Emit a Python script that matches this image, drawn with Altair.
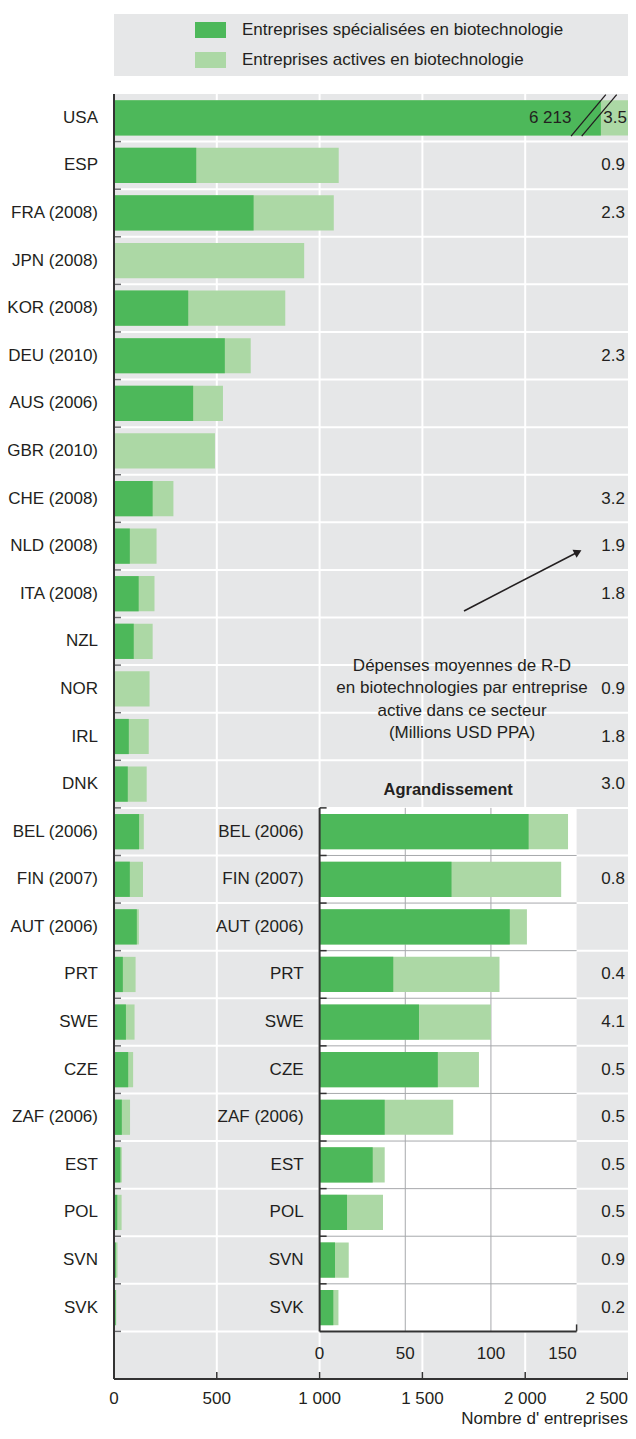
import altair as alt
import pandas as pd

# ---------------- data ----------------
countries = ["USA", "ESP", "FRA (2008)", "JPN (2008)", "KOR (2008)", "DEU (2010)",
             "AUS (2006)", "GBR (2010)", "CHE (2008)", "NLD (2008)", "ITA (2008)",
             "NZL", "NOR", "IRL", "DNK", "BEL (2006)", "FIN (2007)", "AUT (2006)",
             "PRT", "SWE", "CZE", "ZAF (2006)", "EST", "POL", "SVN", "SVK"]
# Entreprises spécialisées en biotechnologie
specialised = [6213, 400, 679, None, 361, 539, 385, None, 188, 77, 120, 96, None,
               72, 67, 122, 77, 111, 43, 58, 69, 38, 31, 16, 9, 8]
# Entreprises actives en biotechnologie (total; USA off the scale)
active = [None, 1093, 1069, 925, 833, 665, 530, 491, 289, 207, 197, 188, 173,
          169, 159, 145, 141, 121, 105, 100, 93, 78, 38, 37, 17, 11]
# Dépenses moyennes de R-D par entreprise active (millions USD PPA)
rd_per_firm = [3.5, 0.9, 2.3, None, None, 2.3, None, None, 3.2, 1.9, 1.8, None,
               0.9, 1.8, 3.0, None, 0.8, None, 0.4, 4.1, 0.5, 0.5, 0.5, 0.5, 0.9, 0.2]
inset_countries = countries[15:]
x_ticks = [0, 500, 1000, 1500, 2000, 2500]
inset_ticks = [0, 50, 100, 150]
inset_grid = [50, 100]
legend_labels = ["Entreprises spécialisées en biotechnologie",
                 "Entreprises actives en biotechnologie"]
note_lines = ["Dépenses moyennes de R-D", "en biotechnologies par entreprise",
              "active dans ce secteur", "(Millions USD PPA)"]
inset_title = "Agrandissement"
x_title = "Nombre d' entreprises"

# ---------------- layout / style ----------------
FONT = "Liberation Sans"
DARK = "#4db85a"
LIGHT = "#acd8a5"
BG = "#e6e7e8"
TXT = "#231f20"
AXIS = "#333333"
TICK = "#6d6e71"
IGRID = "#a7a9ac"
FS = 17

W, H = 514, 1285
ROWS = len(countries) + 1
STEP = H / ROWS
P_IN, P_OUT = 0.26, 0.13
X_MAX = 2500
BREAK_END = 2368            # visible end of the truncated USA bar
SLASH_A = [BREAK_END - 145, BREAK_END - 93]
SLASH_B = [BREAK_END + 24, BREAK_END + 77]
# the magnified panel maps 0..150 onto 1000..2250 of the main axis
INSET_MAX = 150
INSET_LO, INSET_HI = 1000, 2250
K = (INSET_HI - INSET_LO) / INSET_MAX
INSET_X0 = W * INSET_LO / X_MAX
INSET_X1 = W * INSET_HI / X_MAX
INSET_TOP = 15 * STEP
INSET_BOT = 26 * STEP
BOUND = -P_IN * STEP / 2    # shift from band start to the row boundary

df = pd.DataFrame({"country": countries, "spec": specialised,
                   "active": active, "rd": rd_per_firm})
df_in = df[df["country"].isin(inset_countries)]
one = pd.DataFrame({"k": [0]})

ys = alt.Scale(domain=countries + [" "], paddingInner=P_IN, paddingOuter=P_OUT)
xs = alt.Scale(domain=[0, X_MAX], nice=False)


def Y(**kw):
    return alt.Y("country:N", scale=ys, axis=None, **kw)


def X(f):
    return alt.X(f, scale=xs, axis=None)


def text(**kw):
    base = dict(baseline="middle", fontSize=FS, color=TXT, font=FONT)
    base.update(kw)
    return base


# ---- background, grid ----
bg = alt.Chart(one).mark_rect(color=BG).encode(
    x=alt.value(0), x2=alt.value(W), y=alt.value(0), y2=alt.value(H))
vgrid = alt.Chart(pd.DataFrame({"v": x_ticks[1:-1]})).mark_rule(
    color="white", strokeWidth=2).encode(x=X("v:Q"), y=alt.value(0), y2=alt.value(H))
hgrid = alt.Chart(pd.DataFrame({"country": countries[1:] + [" "]})).mark_rule(
    color="white", strokeWidth=2, yOffset=BOUND).encode(
    y=Y(bandPosition=0), x=alt.value(0), x2=alt.value(W))

# ---- main bars ----
light = alt.Chart(df).transform_calculate(
    act_disp=f"isValid(datum.active) ? min(datum.active, {X_MAX}) : (datum.spec > {X_MAX} ? {X_MAX} : null)"
).transform_filter("isValid(datum.act_disp)").mark_bar(color=LIGHT).encode(
    x=X("act_disp:Q"), y=Y())
dark = alt.Chart(df).transform_filter("isValid(datum.spec)").transform_calculate(
    spec_disp=f"datum.spec > {X_MAX} ? {BREAK_END} : datum.spec"
).mark_bar(color=DARK).encode(x=X("spec_disp:Q"), y=Y())

# ---- axis labels / title ----
y_labels = alt.Chart(df).mark_text(**text(align="right")).encode(
    x=alt.value(-16), y=Y(), text="country:N")
x_lab_calc = dict(lab="replace(format(datum.v, ','), ',', ' ')")
x_labels = alt.Chart(pd.DataFrame({"v": x_ticks[:-1]})).transform_calculate(
    **x_lab_calc).mark_text(**text(align="center")).encode(
    x=X("v:Q"), y=alt.value(H + 20), text="lab:N")
x_label_last = alt.Chart(pd.DataFrame({"v": x_ticks[-1:]})).transform_calculate(
    **x_lab_calc).mark_text(**text(align="right")).encode(
    x=X("v:Q"), y=alt.value(H + 20), text="lab:N")
x_title_mark = alt.Chart(one).mark_text(**text(align="right", text=x_title)).encode(
    x=alt.value(W), y=alt.value(H + 40))

# ---- magnified panel ----
in_calc = dict(lo=str(INSET_LO), hi=str(INSET_HI))
in_bg = alt.Chart(df_in).transform_calculate(**in_calc).mark_bar(
    color="white", height={"band": 1 / (1 - P_IN)}).encode(
    x=X("lo:Q"), x2="hi:Q", y=Y())
in_hgrid = alt.Chart(pd.DataFrame({"country": inset_countries[1:]})).transform_calculate(
    **in_calc).mark_rule(color=IGRID, strokeWidth=1, yOffset=BOUND).encode(
    y=Y(bandPosition=0), x=X("lo:Q"), x2="hi:Q")
in_vgrid = alt.Chart(pd.DataFrame({"v": inset_grid})).transform_calculate(
    xv=f"{INSET_LO} + datum.v * {K}").mark_rule(color=IGRID, strokeWidth=1).encode(
    x=X("xv:Q"), y=alt.value(INSET_TOP), y2=alt.value(INSET_BOT))
in_light = alt.Chart(df_in).transform_filter("isValid(datum.active)").transform_calculate(
    lo=str(INSET_LO), xa=f"{INSET_LO} + datum.active * {K}").mark_bar(color=LIGHT).encode(
    x=X("lo:Q"), x2="xa:Q", y=Y())
in_dark = alt.Chart(df_in).transform_filter("isValid(datum.spec)").transform_calculate(
    lo=str(INSET_LO), xd=f"{INSET_LO} + datum.spec * {K}").mark_bar(color=DARK).encode(
    x=X("lo:Q"), x2="xd:Q", y=Y())
in_ylabels = alt.Chart(df_in).mark_text(**text(align="right")).encode(
    x=alt.value(INSET_X0 - 16), y=Y(), text="country:N")
in_xlabels = alt.Chart(pd.DataFrame({"v": inset_ticks[:-1]})).transform_calculate(
    xv=f"{INSET_LO} + datum.v * {K}").mark_text(**text(align="center")).encode(
    x=X("xv:Q"), y=alt.value(INSET_BOT + 23), text="v:Q")
in_xlabel_last = alt.Chart(pd.DataFrame({"v": inset_ticks[-1:]})).transform_calculate(
    xv=f"{INSET_LO} + datum.v * {K}").mark_text(**text(align="right")).encode(
    x=X("xv:Q"), y=alt.value(INSET_BOT + 23), text="v:Q")
in_ticks = alt.Chart(pd.DataFrame({"country": inset_countries})).mark_rule(
    color=AXIS, strokeWidth=1.5, yOffset=BOUND).encode(
    y=Y(bandPosition=0), x=alt.value(INSET_X0), x2=alt.value(INSET_X0 + 7))
in_left = alt.Chart(one).mark_rule(color=AXIS, strokeWidth=2).encode(
    x=alt.value(INSET_X0), y=alt.value(INSET_TOP), y2=alt.value(INSET_BOT))
in_bottom = alt.Chart(one).mark_rule(color=AXIS, strokeWidth=2).encode(
    x=alt.value(INSET_X0), x2=alt.value(INSET_X1), y=alt.value(INSET_BOT))
in_end_tick = alt.Chart(one).mark_rule(color=AXIS, strokeWidth=1.5).encode(
    x=alt.value(INSET_X1), y=alt.value(INSET_BOT - 7), y2=alt.value(INSET_BOT))
in_title = alt.Chart(one).mark_text(**text(align="center", fontSize=16.5,
                                           fontWeight="bold", text=inset_title)).encode(
    x=alt.value((INSET_X0 + INSET_X1) / 2), y=alt.value(INSET_TOP - 18))

# ---- right column, USA break, axis lines ----
rd_text = alt.Chart(df).transform_filter(
    "isValid(datum.rd) && datum.country != 'USA'"
).mark_text(**text(align="right")).encode(
    x=alt.value(W - 3), y=Y(), text=alt.Text("rd:Q", format=".1f"))
rd_usa = alt.Chart(df).transform_filter(
    "isValid(datum.rd) && datum.country == 'USA'"
).mark_text(**text(align="right")).encode(
    x=alt.value(W - 1), y=Y(), text=alt.Text("rd:Q", format=".1f"))
usa_count = alt.Chart(df).transform_filter(f"datum.spec > {X_MAX}").transform_calculate(
    lab="replace(format(datum.spec, ','), ',', ' ')"
).mark_text(**text(align="right")).encode(
    x=alt.value(W * (SLASH_A[0] + 2) / X_MAX), y=Y(), text="lab:N")
slashes = alt.Chart(pd.DataFrame({"a": SLASH_A, "b": SLASH_B})).mark_rule(
    color=TXT, strokeWidth=1.3).encode(
    x=X("a:Q"), x2="b:Q", y=alt.value(STEP * 0.885), y2=alt.value(STEP * 0.012))

left_ticks = alt.Chart(pd.DataFrame({"country": countries[1:] + [" "]})).mark_rule(
    color=TICK, strokeWidth=1.5, yOffset=BOUND).encode(
    y=Y(bandPosition=0), x=alt.value(0), x2=alt.value(7))
bottom_ticks = alt.Chart(pd.DataFrame({"v": x_ticks[1:]})).mark_rule(
    color=AXIS, strokeWidth=1.5).encode(
    x=X("v:Q"), y=alt.value(H - 7), y2=alt.value(H))
left_line = alt.Chart(one).mark_rule(color=AXIS, strokeWidth=2).encode(
    x=alt.value(0), y=alt.value(0), y2=alt.value(H))
bottom_line = alt.Chart(one).mark_rule(color=AXIS, strokeWidth=2).encode(
    x=alt.value(0), x2=alt.value(W), y=alt.value(H))

# ---- legend (above the plot) ----
leg_box = alt.Chart(one).mark_rect(color=BG).encode(
    x=alt.value(0), x2=alt.value(W), y=alt.value(-80), y2=alt.value(-18))
leg_sw1 = alt.Chart(one).mark_rect(color=DARK).encode(
    x=alt.value(81), x2=alt.value(112), y=alt.value(-72), y2=alt.value(-56))
leg_sw2 = alt.Chart(one).mark_rect(color=LIGHT).encode(
    x=alt.value(81), x2=alt.value(112), y=alt.value(-42), y2=alt.value(-26))
leg_t1 = alt.Chart(one).mark_text(**text(align="left", text=legend_labels[0])).encode(
    x=alt.value(128), y=alt.value(-64))
leg_t2 = alt.Chart(one).mark_text(**text(align="left", text=legend_labels[1])).encode(
    x=alt.value(128), y=alt.value(-34))

# ---- annotation ----
note = alt.Chart(one).mark_text(**text(align="center", lineHeight=22.3,
                                       text=note_lines)).encode(
    x=alt.value(348), y=alt.value(572))
arrow = alt.Chart(one).mark_rule(color=TXT, strokeWidth=1.6).encode(
    x=alt.value(350), x2=alt.value(463), y=alt.value(517), y2=alt.value(458.5))
arrow_head = alt.Chart(one).mark_point(shape="triangle-up", filled=True, color=TXT,
                                       opacity=1, size=80, angle=62.7).encode(
    x=alt.value(464), y=alt.value(458))

chart = alt.layer(
    bg, vgrid, hgrid, light, dark, y_labels, x_labels, x_label_last, x_title_mark,
    in_bg, in_hgrid, in_vgrid, in_light, in_dark, in_ylabels, in_xlabels,
    in_xlabel_last, in_ticks, in_left, in_bottom, in_end_tick, in_title,
    rd_text, rd_usa, usa_count, slashes, left_ticks, bottom_ticks, left_line,
    bottom_line, leg_box, leg_sw1, leg_sw2, leg_t1, leg_t2, note, arrow, arrow_head
).properties(
    width=W, height=H,
    autosize=alt.AutoSizeParams(type="none"),
    padding={"left": 106, "top": 86, "right": 0, "bottom": 52},
).configure_view(fill=BG, stroke=None)

chart.save("out.html", embed_options={"renderer": "svg", "actions": False})
